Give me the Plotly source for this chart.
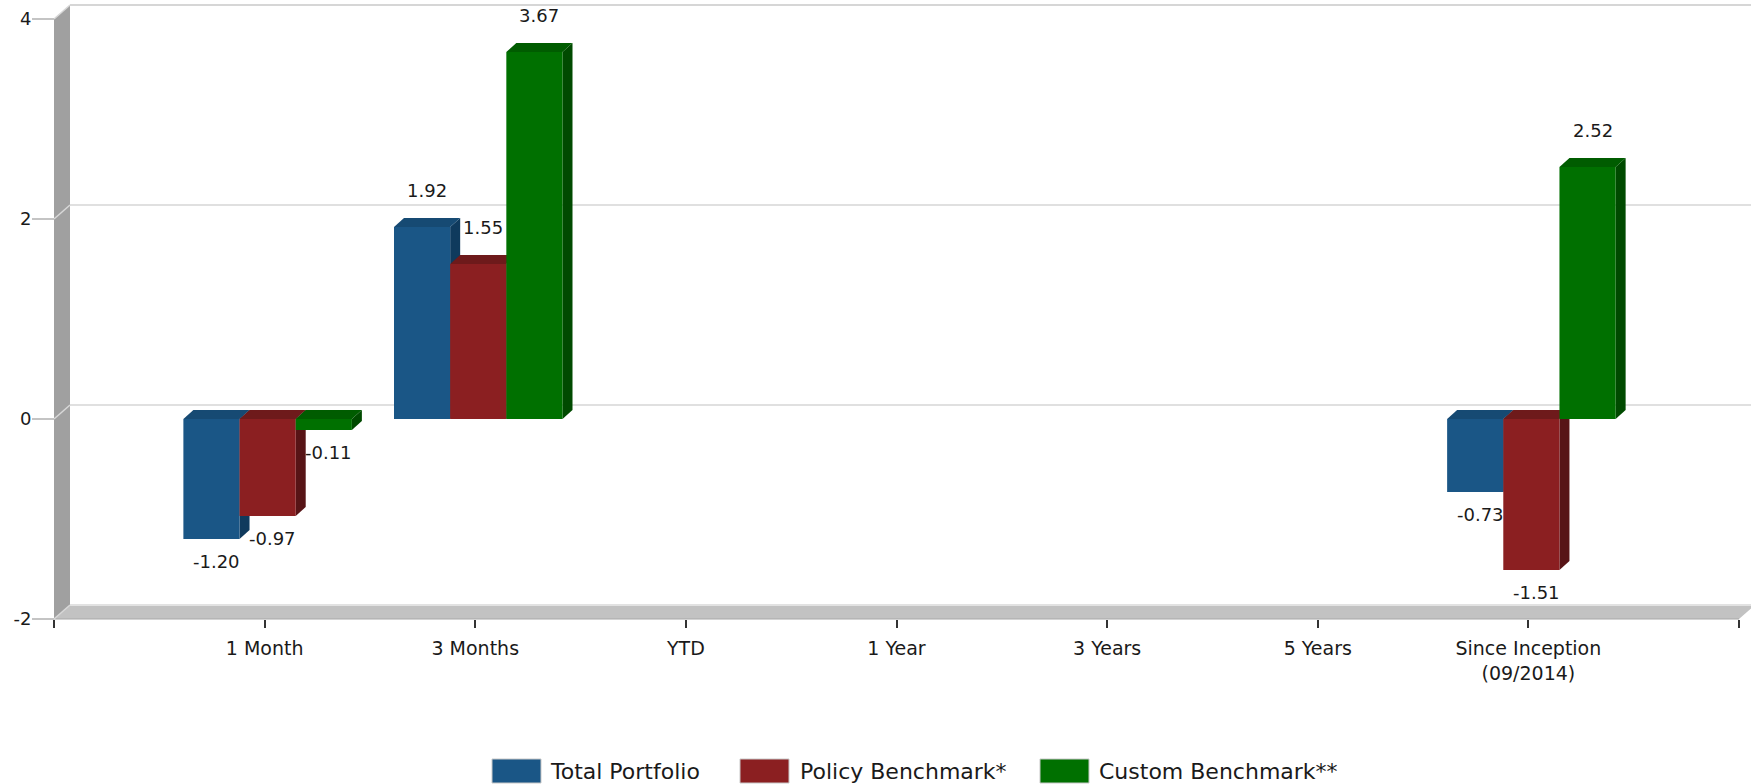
import plotly.graph_objects as go

# ---------------- data ----------------
categories = ["1 Month", "3 Months", "YTD", "1 Year", "3 Years", "5 Years",
              "Since Inception<br>(09/2014)"]
series_names = ["Total Portfolio", "Policy Benchmark*", "Custom Benchmark**"]
total_portfolio = [-1.20, 1.92, None, None, None, None, -0.73]
policy_benchmark = [-0.97, 1.55, None, None, None, None, -1.51]
custom_benchmark = [-0.11, 3.67, None, None, None, None, 2.52]
y_tick_values = [-2, 0, 2, 4]
y_tick_labels = ["-2", "0", "2", "4"]

series_values = [total_portfolio, policy_benchmark, custom_benchmark]

# ---------------- styles ----------------
front_colors = ["#1a5686", "#8b1f21", "#007000"]
top_colors = ["#164a73", "#6e1a1b", "#005c00"]
side_colors = ["#0f3a5d", "#571416", "#004a00"]
FONT = "DejaVu Sans"
TXT = "#1a1a1a"

W, H = 1751, 784
ML, MR, MT, MB = 54, 12, 19, 165
PW, PH = W - ML - MR, H - MT - MB
XR = (0, len(categories) + 1)
YR = (-2, 4)
px_x = PW / (XR[1] - XR[0])
px_y = PH / (YR[1] - YR[0])

WALL_DX, WALL_DY = 16, 14      # depth of chart box (px)
BAR_DX, BAR_DY = 10, 9         # depth of bars (px)
YTICK_START = 32               # left end of y tick lines (px)


def xp(px):
    return (px - ML) / PW


def yp(py):
    return (H - MB - py) / PH


def ypix(v):
    return MT + (YR[1] - v) * px_y


def xpix(v):
    return ML + (v - XR[0]) * px_x


fig = go.Figure()
shapes = []
annotations = []

# ---------- chart box (walls / floor / grid) ----------
front_left = xpix(XR[0])
front_right = xpix(XR[1])
y_top = ypix(YR[1])
y_bot = ypix(YR[0])


def ppath(points):
    return "M" + " L".join(f"{xp(a):.5f},{yp(b):.5f}" for a, b in points) + " Z"


# left wall
shapes.append(dict(type="path", xref="paper", yref="paper", layer="below",
                   path=ppath([(front_left, y_top), (front_left, y_bot),
                               (front_left + WALL_DX, y_bot - WALL_DY),
                               (front_left + WALL_DX, y_top - WALL_DY)]),
                   fillcolor="#a0a0a0", line=dict(width=0)))
# floor
shapes.append(dict(type="path", xref="paper", yref="paper", layer="below",
                   path=ppath([(front_left, y_bot), (front_right, y_bot),
                               (front_right + WALL_DX, y_bot - WALL_DY),
                               (front_left + WALL_DX, y_bot - WALL_DY)]),
                   fillcolor="#c2c2c2", line=dict(width=0)))
shapes.append(dict(type="line", xref="paper", yref="paper", layer="below",
                   x0=xp(front_left + WALL_DX), x1=xp(front_right + WALL_DX),
                   y0=yp(y_bot - WALL_DY), y1=yp(y_bot - WALL_DY),
                   line=dict(color="#e2e2e2", width=2)))
shapes.append(dict(type="line", xref="paper", yref="paper", layer="below",
                   x0=xp(front_left), x1=xp(front_right),
                   y0=yp(y_bot), y1=yp(y_bot),
                   line=dict(color="#a8a8a8", width=1)))
# back wall grid lines, connectors on left wall, y tick lines
for v in y_tick_values:
    py = ypix(v)
    if v != YR[0]:
        shapes.append(dict(type="line", xref="paper", yref="paper", layer="below",
                           x0=xp(front_left + WALL_DX), x1=xp(W),
                           y0=yp(py - WALL_DY), y1=yp(py - WALL_DY),
                           line=dict(color="#d6d6d6" if v != YR[1] else "#c8c8c8",
                                     width=1.5)))
    shapes.append(dict(type="line", xref="paper", yref="paper", layer="below",
                       x0=xp(front_left), x1=xp(front_left + WALL_DX),
                       y0=yp(py), y1=yp(py - WALL_DY),
                       line=dict(color="#d8d8d8", width=1.5)))
    shapes.append(dict(type="line", xref="paper", yref="paper", layer="above",
                       x0=xp(YTICK_START), x1=xp(front_left),
                       y0=yp(py), y1=yp(py),
                       line=dict(color="#c4c4c4", width=2)))

# ---------- bars ----------
n_series = len(series_names)
group_w = 0.8
bar_w = group_w / n_series
shift = 3 / px_x
DX = BAR_DX / px_x
DY = BAR_DY / px_y
x_pos = list(range(1, len(categories) + 1))

for k, (name, vals) in enumerate(zip(series_names, series_values)):
    offset = -group_w / 2 + k * bar_w + shift
    fig.add_trace(go.Bar(
        x=x_pos, y=vals, name=name, width=bar_w, offset=offset,
        marker=dict(color=front_colors[k], line=dict(width=0)),
        showlegend=False,
    ))
    for xc, v in zip(x_pos, vals):
        if v is None:
            continue
        x0 = xc + offset
        x1 = x0 + bar_w
        top = max(v, 0)
        bot = min(v, 0)
        shapes.append(dict(
            type="path", xref="x", yref="y", layer="below",
            path=(f"M{x1},{bot} L{x1},{top} L{x1 + DX},{top + DY} "
                  f"L{x1 + DX},{bot + DY} Z"),
            fillcolor=side_colors[k], line=dict(width=0)))
        shapes.append(dict(
            type="path", xref="x", yref="y", layer="below",
            path=(f"M{x0},{top} L{x1},{top} L{x1 + DX},{top + DY} "
                  f"L{x0 + DX},{top + DY} Z"),
            fillcolor=top_colors[k], line=dict(width=0)))
        annotations.append(dict(
            x=x0 + bar_w / 2, y=v, xref="x", yref="y",
            text=f"{v:.2f}", showarrow=False, xshift=5,
            yshift=37 if v > 0 else -22,
            font=dict(family=FONT, size=18, color=TXT)))

# ---------- legend (drawn manually to match large swatches) ----------
legend_swatches = [(492, 541, 548), (740, 789, 798), (1040, 1089, 1097)]
for k, name in enumerate(series_names):
    sx0, sx1, tx = legend_swatches[k]
    shapes.append(dict(type="rect", xref="paper", yref="paper",
                       x0=xp(sx0), x1=xp(sx1), y0=yp(759), y1=yp(783),
                       fillcolor=front_colors[k], line=dict(color="#c8c8c8", width=1)))
    annotations.append(dict(x=xp(tx), y=yp(771), xref="paper", yref="paper",
                            text=name, showarrow=False, xanchor="left",
                            yanchor="middle",
                            font=dict(family=FONT, size=22, color=TXT)))

fig.update_layout(
    width=W, height=H,
    margin=dict(l=ML, r=MR, t=MT, b=MB, pad=0),
    paper_bgcolor="white", plot_bgcolor="rgba(0,0,0,0)",
    barmode="overlay",
    showlegend=False,
    shapes=shapes, annotations=annotations,
    font=dict(family=FONT, size=17, color=TXT),
    xaxis=dict(range=list(XR), tickmode="array",
               tickvals=list(range(XR[0], XR[1] + 1)),
               ticktext=[""] + categories + [""],
               ticks="outside", ticklen=8, tickcolor="#333333", tickwidth=1.5,
               showgrid=False, zeroline=False, showline=False, automargin=False,
               ticklabelstandoff=4,
               tickfont=dict(family=FONT, size=19, color=TXT), fixedrange=True),
    yaxis=dict(range=list(YR), tickmode="array", tickvals=y_tick_values,
               ticktext=y_tick_labels,
               ticks="outside", ticklen=18, tickcolor="rgba(0,0,0,0)", tickwidth=2,
               showgrid=False, zeroline=False, showline=False, automargin=False,
               tickfont=dict(family=FONT, size=18, color=TXT), fixedrange=True),
)

fig.write_html("out.html")
